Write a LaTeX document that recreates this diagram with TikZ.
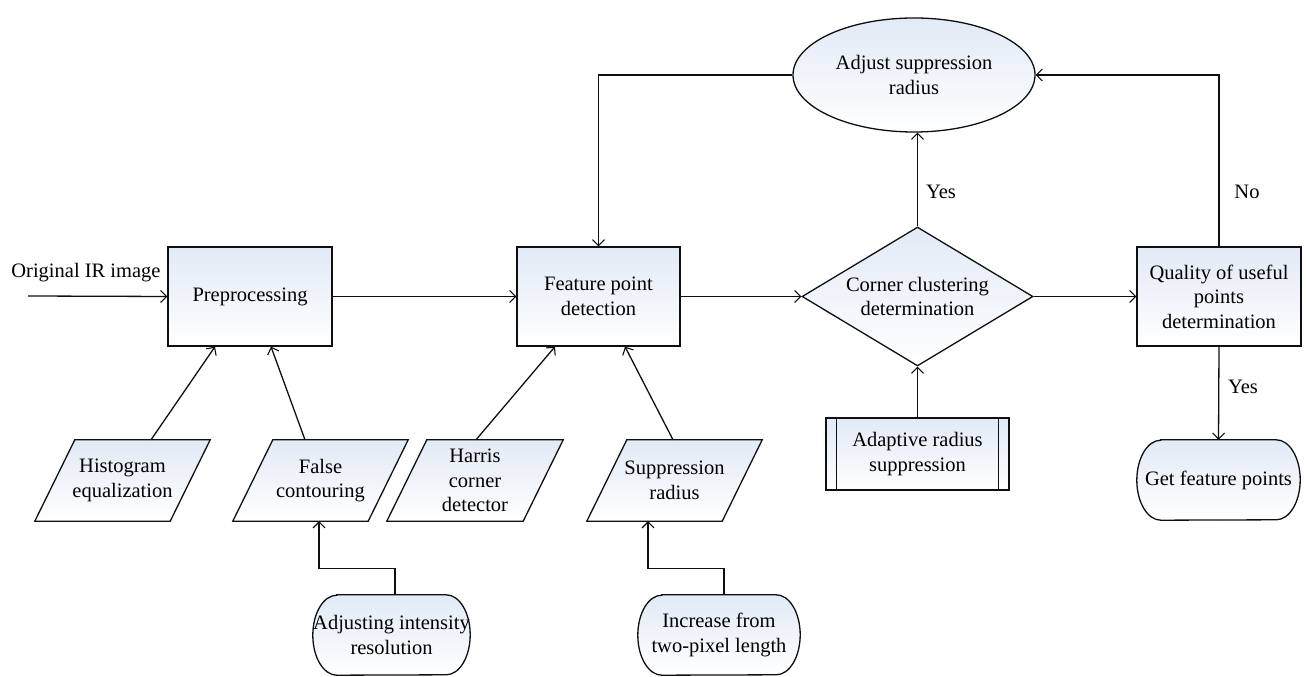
\documentclass[tikz,border=0pt]{standalone}
\usepackage{fontspec}
\setmainfont{Liberation Serif}
\usetikzlibrary{shapes.geometric,arrows.meta,backgrounds,calc}
\definecolor{topfill}{RGB}{226,234,245}
\definecolor{linecol}{RGB}{15,15,15}
\tikzset{
  txt/.style={font=\fontsize{20.5}{24.5}\selectfont, align=center, inner sep=0pt},
  base/.style={txt, draw=linecol, line width=1.3pt, top color=topfill, bottom color=white},
  procbox/.style={base, rectangle, minimum width=164pt, minimum height=99pt},
  decbox/.style={base, diamond, shape aspect=1.662, minimum width=231pt, minimum height=139pt},
  ellbox/.style={base, ellipse, minimum width=242pt, minimum height=114pt},
  ionode/.style={txt, rectangle, minimum width=135pt, minimum height=81pt},
  termnode/.style={txt, rectangle, minimum height=80pt},
  shapefill/.style={draw=linecol, line width=1.3pt, top color=topfill, bottom color=white},
  lbl/.style={txt},
  conn/.style={draw=linecol, line width=1.3pt, -{Straight Barb[length=6pt,width=12pt,line width=1.1pt]}},
  plain/.style={draw=linecol, line width=1.3pt},
}
\begin{document}
\begin{tikzpicture}[x=1pt,y=1pt]
\useasboundingbox (0,0) rectangle (1306,677);

% main nodes
\node[procbox] (pre) at (250,380.5) {Preprocessing};
\node[procbox, minimum width=163pt] (feat) at (598.5,380.5) {Feature point\\detection};
\node[decbox] (diam) at (917.5,380.5) {Corner clustering\\determination};
\node[procbox] (qual) at (1219,380.5) {Quality of useful\\points\\determination};
\node[ellbox] (adj) at (914,602) {Adjust suppression\\radius};
\node[procbox, minimum width=183pt, minimum height=72pt] (ars) at (917.5,223) {Adaptive radius\\suppression};

\node[ionode] (hist) at (122.5,196.5) {Histogram\\equalization};
\node[ionode] (false) at (320.5,196.5) {False\\contouring};
\node[ionode, minimum width=136pt] (harris) at (475,196.5) {Harris\\corner\\detector};
\node[ionode] (supp) at (674.5,196.5) {Suppression\\radius};

\node[termnode, minimum width=157pt] (adjint) at (391.5,42) {Adjusting intensity\\resolution};
\node[termnode, minimum width=162pt] (inc) at (719,42) {Increase from\\two-pixel length};
\node[termnode, minimum width=163pt] (getfp) at (1218.5,197) {Get feature points};

\begin{pgfonlayer}{background}
\foreach \n in {hist,false,harris,supp}{
  \path[shapefill] ([xshift=20pt]\n.north west) -- ([xshift=20pt]\n.north east)
    -- ([xshift=-20pt]\n.south east) -- ([xshift=-20pt]\n.south west) -- cycle;
}
\foreach \n in {adjint,inc,getfp}{
  \path[shapefill] ([xshift=24pt]\n.north west) -- ([xshift=-24pt]\n.north east)
    arc[start angle=90,end angle=-90,x radius=24pt,y radius=40pt]
    -- ([xshift=24pt]\n.south west)
    arc[start angle=270,end angle=90,x radius=24pt,y radius=40pt] -- cycle;
}
\end{pgfonlayer}

% subroutine inner lines
\draw[plain] ([xshift=11pt]ars.north west) -- ([xshift=11pt]ars.south west);
\draw[plain] ([xshift=-11pt]ars.north east) -- ([xshift=-11pt]ars.south east);

% labels
\node[lbl] (orig) at (86,404) {Original IR image};
\coordinate (start) at (28,381);
\node[lbl] (yes1) at (941,485) {Yes};
\node[lbl] (no1) at (1247,485) {No};
\node[lbl] (yes2) at (1243,290) {Yes};

% connectors
\draw[conn] (start) -- (pre.west);
\draw[conn] (pre.east) -- (feat.west);
\draw[conn] (feat.east) -- (diam.west);
\draw[conn] (diam.east) -- (qual.west);
\draw[conn] (qual.south) -- (getfp.north);
\draw[conn] (ars.north) -- (diam.south);
\draw[conn] (diam.north) -- (diam.north |- adj.south);
\draw[conn] (qual.north) |- (adj.east);
\draw[conn] (adj.west) -| (feat.north);

\draw[conn] ([xshift=28.5pt]hist.north) -- ([xshift=-35pt]pre.south);
\draw[conn] ([xshift=-15.5pt]false.north) -- ([xshift=21pt]pre.south);
\draw[conn] ([xshift=1pt]harris.north) -- ([xshift=-43.5pt]feat.south);
\draw[conn] ([xshift=-1.5pt]supp.north) -- ([xshift=26.5pt]feat.south);

\draw[conn] ([xshift=3.5pt]adjint.north) -- ++(0,26) -| ([xshift=-1.5pt]false.south);
\draw[conn] ([xshift=5pt]inc.north) -- ++(0,26) -| ([xshift=-26.5pt]supp.south);
\end{tikzpicture}
\end{document}
